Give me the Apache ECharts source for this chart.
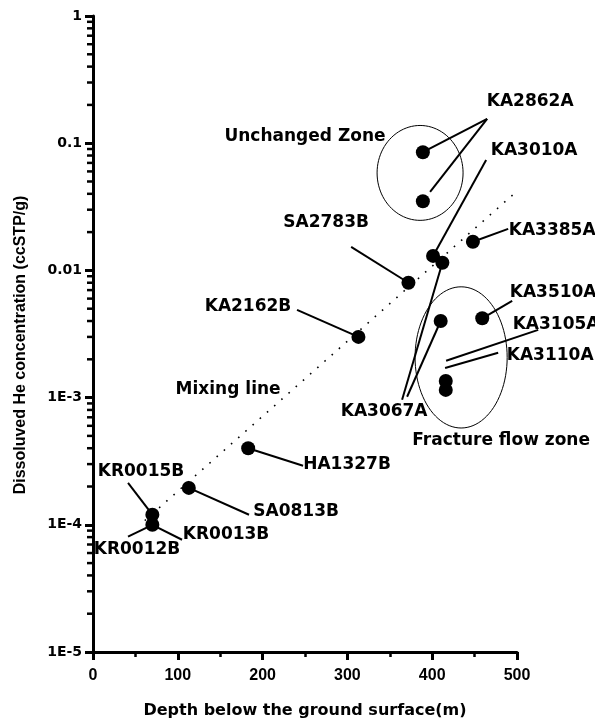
<!DOCTYPE html>
<html>
<head>
<meta charset="utf-8">
<script src="https://cdn.jsdelivr.net/npm/echarts@6/dist/echarts.min.js"></script>
<style>
html,body{margin:0;padding:0;background:#fff;}
#chart{width:595px;height:725px;}
</style>
</head>
<body>
<div id="chart"></div>
<script>
// ---- data ----
const sampleNames = ['KA2862A','KA2862A','KA3010A','KA3067A','KA3385A','SA2783B','KA2162B','KA3510A','KA3067A','KA3105A','KA3110A','HA1327B','SA0813B','KR0015B','KR0012B'];
const depth   = [389, 389, 401, 412, 448, 372, 313, 459, 410, 416, 416, 183, 113, 70, 70];
const heConc  = [0.085, 0.035, 0.013, 0.0115, 0.0168, 0.008, 0.003, 0.0042, 0.004, 0.00135, 0.00115, 0.0004, 0.000195, 0.00012, 0.0001];

const mixDepth = [61, 500];
const mixConc  = [0.000108, 0.042];

const yTickValues = [1e-5, 1e-4, 1e-3, 0.01, 0.1, 1];
const yTickLabels = ['1E-5', '1E-4', '1E-3', '0.01', '0.1', '1'];

const xTitle = 'Depth below the ground surface(m)';
const yTitle = 'Dissoluved He concentration (ccSTP/g)';

// zones (centre in data units, x half-width in m, y half-height in decades)
const zones = [
  { name: 'Unchanged Zone', cx: 385.7, cy: 0.0584, rx: 50.7, ry: 0.373 },
  { name: 'Fracture flow zone', cx: 434.1, cy: 0.00207, rx: 54.3, ry: 0.555 }
];

// annotations: text anchor in data coords, leader lines [from, to(point index or data coords)]
const annotations = [
  { text: 'KA2862A', pos: [515.5, 0.211], leaders: [[[464.8, 0.1551], 0], [[464.8, 0.1551], [397.5, 0.0414]]] },
  { text: 'Unchanged Zone', pos: [250, 0.112], leaders: [] },
  { text: 'KA3010A', pos: [520.2, 0.087], leaders: [[[463.6, 0.0739], 2]] },
  { text: 'SA2783B', pos: [274.9, 0.0236], leaders: [[[304.4, 0.0153], 5]] },
  { text: 'KA3385A', pos: [541.5, 0.02045], leaders: [[[489.6, 0.0212], 4]] },
  { text: 'KA2162B', pos: [182.8, 0.00517], leaders: [[[240.6, 0.0049], 6]] },
  { text: 'KA3510A', pos: [542.6, 0.00666], leaders: [[[494.3, 0.00576], 7]] },
  { text: 'KA3105A', pos: [546.1, 0.00373], leaders: [[[525, 0.00341], [416.4, 0.00195]]] },
  { text: 'KA3110A', pos: [539.1, 0.00213], leaders: [[[477.8, 0.00225], [415.2, 0.00171]]] },
  { text: 'Mixing line', pos: [159.3, 0.00115], leaders: [] },
  { text: 'KA3067A', pos: [343.3, 0.000773], leaders: [[[364.5, 0.000961], 3], [[370.4, 0.001015], 8]] },
  { text: 'Fracture flow zone', pos: [481.3, 0.000458], leaders: [] },
  { text: 'HA1327B', pos: [299.6, 0.000296], leaders: [[[247.7, 0.000291], 11]] },
  { text: 'SA0813B', pos: [239.5, 0.0001267], leaders: [[[184.0, 0.00012], 12]] },
  { text: 'KR0015B', pos: [56.6, 0.000261], leaders: [[[41.3, 0.000214], 13]] },
  { text: 'KR0013B', pos: [156.9, 0.0000836], leaders: [[[105.0, 0.0000763], 14]] },
  { text: 'KR0012B', pos: [51.9, 0.0000637], leaders: [[[41.3, 0.0000806], 14]] }
];

// minor tick positions on the log axis (2..9 in each decade)
const yMinorTicks = [];
for (let e = -5; e < 0; e++) {
  for (let m = 2; m <= 9; m++) yMinorTicks.push(m * Math.pow(10, e));
}

const ANNOT_FONT = 'bold 17px "DejaVu Sans"';

const chart = echarts.init(document.getElementById('chart'), null, { renderer: 'canvas' });

function yLabel(v) {
  const e = Math.round(Math.log10(v));
  const i = yTickValues.findIndex(t => Math.round(Math.log10(t)) === e);
  return i >= 0 ? yTickLabels[i] : '';
}

const option = {
  animation: false,
  backgroundColor: '#fff',
  grid: { left: 93, right: 78, top: 16, bottom: 73, containLabel: false },
  xAxis: {
    type: 'value', min: 0, max: 500, interval: 100,
    name: xTitle, nameLocation: 'middle', nameGap: 51,
    nameTextStyle: { fontFamily: 'DejaVu Sans', fontWeight: 'bold', fontSize: 16, color: '#000' },
    axisLine: { onZero: false, lineStyle: { color: '#000', width: 3 } },
    axisTick: { show: true, inside: false, length: 8, lineStyle: { color: '#000', width: 3 } },
    minorTick: { show: true, splitNumber: 2, length: 5, lineStyle: { color: '#000', width: 2.5 } },
    axisLabel: { fontFamily: 'Liberation Sans', fontWeight: 'bold', fontSize: 16, color: '#000', margin: 16 },
    splitLine: { show: false }
  },
  yAxis: {
    type: 'log', logBase: 10, min: 1e-5, max: 1,
    axisLine: { onZero: false, lineStyle: { color: '#000', width: 3 } },
    axisTick: { show: true, inside: false, length: 8, lineStyle: { color: '#000', width: 3 } },
    axisLabel: { fontFamily: 'DejaVu Sans', fontWeight: 'bold', fontSize: 14, color: '#000', margin: 11, formatter: yLabel },
    splitLine: { show: false }
  },
  graphic: [{
    type: 'text', x: 21, y: 345, rotation: Math.PI / 2,
    style: { text: yTitle, font: 'bold 16px "Liberation Sans"', fill: '#000', align: 'center', verticalAlign: 'middle', textAlign: 'center', textVerticalAlign: 'middle' }
  }],
  series: [
    {
      // minor ticks of the log axis
      type: 'custom', silent: true, clip: false, z: 5,
      data: yMinorTicks.map(v => [0, v]),
      renderItem: function (params, api) {
        const p = api.coord([0, api.value(1)]);
        return { type: 'line', shape: { x1: p[0] - 6, y1: p[1], x2: p[0], y2: p[1] }, style: { stroke: '#000', lineWidth: 2.5 } };
      }
    },
    {
      // zone ellipses
      type: 'custom', silent: true, clip: false, z: 2,
      data: zones.map(z => [z.cx, z.cy]),
      renderItem: function (params, api) {
        const z = zones[params.dataIndex];
        const pts = [];
        for (let k = 0; k <= 96; k++) {
          const a = k / 96 * Math.PI * 2;
          const xv = z.cx + z.rx * Math.cos(a);
          const yv = Math.pow(10, Math.log10(z.cy) + z.ry * Math.sin(a));
          pts.push(api.coord([xv, yv]));
        }
        return { type: 'polyline', shape: { points: pts }, style: { stroke: '#000', lineWidth: 1, fill: null } };
      }
    },
    {
      name: 'Mixing line', type: 'line', z: 3,
      data: mixDepth.map((d, i) => [d, mixConc[i]]),
      showSymbol: false, symbol: 'none',
      lineStyle: { color: '#000', width: 1.6, type: [1.6, 8] }
    },
    {
      // annotations with leader lines
      type: 'custom', silent: true, clip: false, z: 4,
      data: annotations.map(a => a.pos),
      renderItem: function (params, api) {
        const a = annotations[params.dataIndex];
        const children = [];
        a.leaders.forEach(l => {
          const from = api.coord(l[0]);
          const toVal = typeof l[1] === 'number' ? [depth[l[1]], heConc[l[1]]] : l[1];
          const to = api.coord(toVal);
          children.push({ type: 'line', shape: { x1: from[0], y1: from[1], x2: to[0], y2: to[1] }, style: { stroke: '#000', lineWidth: 2 } });
        });
        const p = api.coord(a.pos);
        children.push({ type: 'text', x: p[0], y: p[1], style: { text: a.text, font: ANNOT_FONT, fill: '#000', align: 'center', verticalAlign: 'middle' } });
        return { type: 'group', children: children };
      }
    },
    {
      name: 'He', type: 'scatter', z: 6,
      data: depth.map((d, i) => [d, heConc[i]]),
      symbol: 'circle', symbolSize: 14,
      itemStyle: { color: '#000', opacity: 1 }
    }
  ]
};
chart.setOption(option);
</script>
</body>
</html>
